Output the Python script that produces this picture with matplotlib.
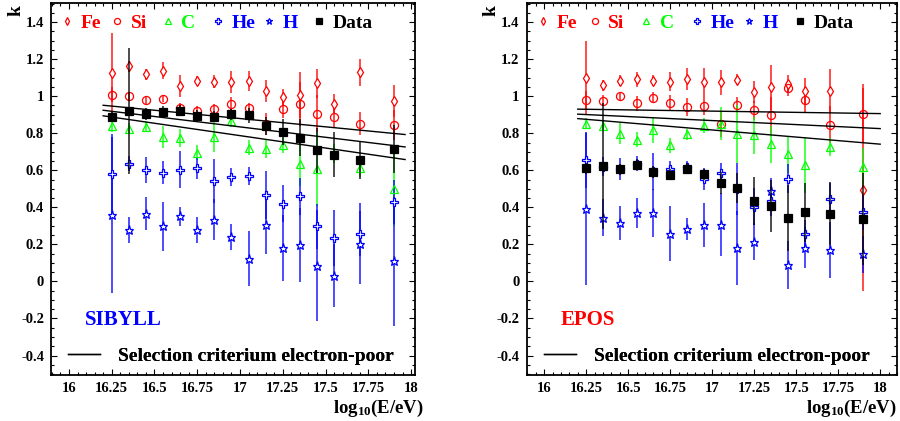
import numpy as np
import matplotlib
matplotlib.use("Agg")
import matplotlib.pyplot as plt
from matplotlib.lines import Line2D
from matplotlib.ticker import MultipleLocator, FuncFormatter

plt.rcParams['font.family'] = ['Liberation Serif', 'DejaVu Serif']
plt.rcParams['font.weight'] = 'bold'
plt.rcParams['mathtext.fontset'] = 'custom'
plt.rcParams['mathtext.rm'] = 'Liberation Serif:bold'
plt.rcParams['mathtext.bf'] = 'Liberation Serif:bold'
plt.rcParams['mathtext.it'] = 'Liberation Serif:bold'

# ---------------- data ----------------
energy = [16.25, 16.35, 16.45, 16.55, 16.65, 16.75, 16.85, 16.95,
          17.05, 17.15, 17.25, 17.35, 17.45, 17.55, 17.7, 17.9]

# SIBYLL panel
sib_fe = [1.123, 1.162, 1.119, 1.137, 1.054, 1.083, 1.078, 1.078, 1.081, 1.029, 0.996, 1.005, 1.069, 0.957, 1.128, 0.973]
sib_fe_err = [0.22, 0.03, 0.03, 0.045, 0.06, 0.025, 0.035, 0.06, 0.055, 0.06, 0.045, 0.125, 0.08, 0.055, 0.075, 0.085]
sib_si = [1.009, 1.002, 0.980, 0.986, 0.934, 0.919, 0.930, 0.957, 0.934, 0.85, 0.930, 0.957, 0.906, 0.890, 0.852, 0.843]
sib_si_err = [0.04, 0.02, 0.02, 0.02, 0.03, 0.03, 0.03, 0.04, 0.03, 0.06, 0.05, 0.12, 0.10, 0.06, 0.06, 0.08]
sib_c = [0.838, 0.825, 0.834, 0.780, 0.775, 0.694, 0.780, 0.866, 0.723, 0.717, 0.735, 0.636, 0.609, 0.69, 0.614, 0.501]
sib_c_err = [0.03, 0.03, 0.03, 0.06, 0.05, 0.04, 0.08, 0.03, 0.04, 0.05, 0.04, 0.12, 0.2, 0.05, 0.05, 0.2]
sib_he = [0.578, 0.636, 0.600, 0.588, 0.604, 0.611, 0.542, 0.564, 0.569, 0.465, 0.420, 0.459, 0.297, 0.234, 0.258, 0.429]
sib_he_err = [0.22, 0.04, 0.07, 0.06, 0.1, 0.06, 0.12, 0.05, 0.05, 0.13, 0.1, 0.1, 0.12, 0.15, 0.12, 0.12]
sib_h = [0.357, 0.276, 0.366, 0.297, 0.351, 0.279, 0.334, 0.240, 0.123, 0.306, 0.180, 0.195, 0.086, 0.032, 0.204, 0.108]
sib_h_err = [0.42, 0.07, 0.09, 0.13, 0.05, 0.07, 0.11, 0.07, 0.15, 0.16, 0.18, 0.2, 0.3, 0.17, 0.22, 0.35]
sib_data = [0.888, 0.919, 0.904, 0.917, 0.921, 0.894, 0.888, 0.903, 0.897, 0.838, 0.805, 0.775, 0.708, 0.685, 0.654, 0.715]
sib_data_err = [0.03, 0.34, 0.03, 0.03, 0.03, 0.03, 0.03, 0.03, 0.04, 0.05, 0.07, 0.10, 0.12, 0.12, 0.10, 0.13]
sib_sel_x = [16.2, 17.965]
sib_sel_mid = [0.924, 0.726]
sib_sel_up = [0.951, 0.793]
sib_sel_lo = [0.894, 0.658]

# EPOS panel
epos_fe = [1.096, 1.059, 1.083, 1.092, 1.083, 1.078, 1.092, 1.074, 1.074, 1.090, 1.023, 1.047, 1.065, 1.029, 1.029, 0.496]
epos_fe_err = [0.2, 0.03, 0.03, 0.04, 0.03, 0.05, 0.06, 0.08, 0.07, 0.03, 0.06, 0.12, 0.05, 0.07, 0.12, 0.55]
epos_si = [0.978, 0.975, 1.000, 0.961, 0.991, 0.964, 0.942, 0.946, 0.852, 0.955, 0.924, 0.897, 1.042, 0.978, 0.845, 0.906]
epos_si_err = [0.05, 0.03, 0.02, 0.04, 0.03, 0.04, 0.05, 0.05, 0.07, 0.04, 0.05, 0.1, 0.04, 0.07, 0.1, 0.16]
epos_c = [0.852, 0.840, 0.798, 0.766, 0.816, 0.735, 0.795, 0.840, 0.852, 0.795, 0.789, 0.741, 0.686, 0.627, 0.726, 0.618]
epos_c_err = [0.03, 0.03, 0.055, 0.04, 0.07, 0.04, 0.03, 0.04, 0.09, 0.155, 0.1, 0.1, 0.1, 0.15, 0.05, 0.1]
epos_he = [0.654, 0.62, 0.609, 0.636, 0.595, 0.609, 0.618, 0.555, 0.588, 0.50, 0.402, 0.432, 0.555, 0.254, 0.443, 0.375]
epos_he_err = [0.15, 0.05, 0.06, 0.04, 0.1, 0.04, 0.03, 0.06, 0.05, 0.14, 0.1, 0.08, 0.08, 0.08, 0.09, 0.1]
epos_h = [0.389, 0.344, 0.315, 0.369, 0.369, 0.258, 0.283, 0.306, 0.306, 0.180, 0.215, 0.488, 0.090, 0.182, 0.171, 0.146]
epos_h_err = [0.41, 0.1, 0.09, 0.08, 0.13, 0.15, 0.06, 0.12, 0.17, 0.2, 0.1, 0.07, 0.13, 0.11, 0.15, 0.1]
epos_data = [0.612, 0.622, 0.605, 0.631, 0.591, 0.577, 0.609, 0.578, 0.533, 0.506, 0.432, 0.405, 0.342, 0.373, 0.366, 0.337]
epos_data_err = [0.03, 0.34, 0.03, 0.03, 0.03, 0.03, 0.03, 0.03, 0.06, 0.08, 0.13, 0.14, 0.18, 0.16, 0.17, 0.25]
epos_sel_x = [16.2, 18.0]
epos_sel_mid = [0.903, 0.825]
epos_sel_up = [0.930, 0.906]
epos_sel_lo = [0.879, 0.741]

species = ['Fe', 'Si', 'C', 'He', 'H', 'Data']
model_names = ['SIBYLL', 'EPOS']
legend_line_label = 'Selection criterium electron-poor'
x_label = r'log$_{\mathbf{10}}$(E/eV)'
y_label = 'k'

# ---------------- style ----------------
RED, GREEN, BLUE, BLACK = '#ff0000', '#00ff00', '#0000ff', '#000000'
styles = {
    'Fe': dict(color=RED, marker='d', ms=5.5, mfc='white'),
    'Si': dict(color=RED, marker='o', ms=5.8, mfc='none'),
    'C': dict(color=GREEN, marker='^', ms=5.8, mfc='none'),
    'He': dict(color=BLUE, marker='P', ms=5.6, mfc='white'),
    'H': dict(color=BLUE, marker='*', ms=6.6, mfc='white'),
    'Data': dict(color=BLACK, marker='s', ms=5.3, mfc=BLACK),
}

fig = plt.figure(figsize=(9.0, 4.21), dpi=100)
ax1 = fig.add_axes([51 / 900, 46 / 421, 364 / 900, 372 / 421])
ax2 = fig.add_axes([526.5 / 900, 46 / 421, 370.5 / 900, 372 / 421])


def fmt(v, pos):
    s = ('%.2f' % v).rstrip('0').rstrip('.')
    if s in ('-0', '0', ''):
        return '0'
    return s


def draw_panel(ax, series, sel, model, model_color, xmax, leg_x0, xlab_x):
    for name in species:
        y, e = series[name]
        st = styles[name]
        z = 4 if name == 'Data' else 3
        ax.errorbar(energy, y, yerr=e, fmt='none', ecolor=st['color'],
                    elinewidth=1.4, alpha=0.7, capsize=0, zorder=z - 0.5)
        ax.plot(energy, y, linestyle='none', marker=st['marker'], ms=st['ms'],
                mfc=st['mfc'], mec=st['color'], mew=0.9, zorder=z)
    sx, smid, sup, slo = sel
    for yy in (sup, smid, slo):
        ax.plot(sx, yy, color='black', lw=1.0, zorder=3.5)

    ax.set_xlim(15.895, xmax)
    ax.set_ylim(-0.505, 1.503)
    ax.xaxis.set_major_locator(MultipleLocator(0.25))
    ax.xaxis.set_minor_locator(MultipleLocator(0.05))
    ax.yaxis.set_major_locator(MultipleLocator(0.2))
    ax.yaxis.set_minor_locator(MultipleLocator(0.05))
    ax.xaxis.set_major_formatter(FuncFormatter(fmt))
    ax.yaxis.set_major_formatter(FuncFormatter(fmt))
    ax.tick_params(which='both', direction='in', top=True, right=True,
                   labelsize=10.5, width=0.8)
    ax.tick_params(which='major', length=4.0, pad=5)
    ax.tick_params(which='minor', length=2.2)
    for sp in ax.spines.values():
        sp.set_linewidth(1.3)
    for lab in ax.get_xticklabels() + ax.get_yticklabels():
        lab.set_fontweight('bold')

    # top legend, one entry per column
    fs = 14
    for i, name in enumerate(species):
        st = styles[name]
        h = Line2D([], [], linestyle='none', marker=st['marker'],
                   ms=st['ms'] * 0.75, mfc=st['mfc'], mec=st['color'], mew=0.9)
        leg = ax.legend(handles=[h], labels=[name], loc='center left',
                        bbox_to_anchor=(leg_x0 + i * 0.1385, 0.946),
                        frameon=False, fontsize=fs, handlelength=0.6,
                        handletextpad=0.4, borderpad=0, borderaxespad=0)
        for t in leg.get_texts():
            t.set_color(st['color'] if name != 'Data' else BLACK)
            t.set_fontweight('bold')
        ax.add_artist(leg)

    hl = Line2D([], [], color='black', lw=1.0)
    leg2 = ax.legend(handles=[hl], labels=[legend_line_label], loc='center left',
                     bbox_to_anchor=(0.047, 0.051), frameon=False, fontsize=fs,
                     handlelength=1.65, handletextpad=0.93, borderpad=0,
                     borderaxespad=0)
    for t in leg2.get_texts():
        t.set_fontweight('bold')
    ax.add_artist(leg2)

    ax.text(0.093, 0.148, model, transform=ax.transAxes, color=model_color,
            fontsize=15, fontweight='bold', ha='left', va='center')
    ax.text(xlab_x, -0.09, x_label, transform=ax.transAxes, fontsize=13.5,
            fontweight='bold', ha='right', va='center')
    ax.text(-0.095, 0.995, y_label, transform=ax.transAxes, fontsize=14,
            fontweight='bold', rotation=90, ha='center', va='top')


sib_series = {'Fe': (sib_fe, sib_fe_err), 'Si': (sib_si, sib_si_err),
              'C': (sib_c, sib_c_err), 'He': (sib_he, sib_he_err),
              'H': (sib_h, sib_h_err), 'Data': (sib_data, sib_data_err)}
epos_series = {'Fe': (epos_fe, epos_fe_err), 'Si': (epos_si, epos_si_err),
               'C': (epos_c, epos_c_err), 'He': (epos_he, epos_he_err),
               'H': (epos_h, epos_h_err), 'Data': (epos_data, epos_data_err)}

draw_panel(ax1, sib_series, (sib_sel_x, sib_sel_mid, sib_sel_up, sib_sel_lo),
           model_names[0], BLUE, 18.023, 0.028, 1.025)
draw_panel(ax2, epos_series, (epos_sel_x, epos_sel_mid, epos_sel_up, epos_sel_lo),
           model_names[1], RED, 18.1, 0.030, 1.001)

fig.savefig('out.png', dpi=100)
